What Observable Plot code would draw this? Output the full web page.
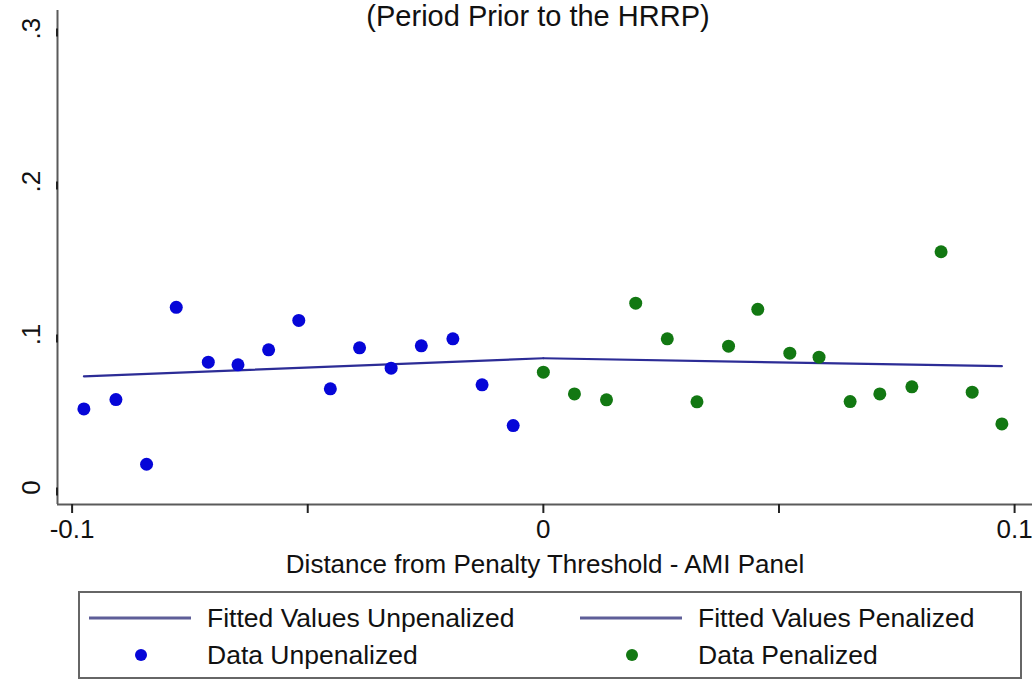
<!DOCTYPE html>
<html>
<head>
<meta charset="utf-8">
<script src="https://cdn.jsdelivr.net/npm/d3@7"></script>
<script src="https://cdn.jsdelivr.net/npm/@observablehq/plot@0.6"></script>
<style>
  body { margin: 0; background: #fff; }
  #wrap { position: relative; width: 1032px; height: 680px; overflow: hidden; font-family: "Liberation Sans", Arial, sans-serif; color: #111; }
  #title { position: absolute; left: 0; width: 1076px; top: 2px; text-align: center; font-size: 29px; line-height: 1; white-space: nowrap; }
  #chart { position: absolute; left: 0; top: 0; }
  #legend { position: absolute; left: 0; top: 0; pointer-events: none; }
</style>
</head>
<body>
<div id="wrap">
  <div id="chart"></div>
  <div id="title">(Period Prior to the HRRP)</div>
  <svg id="legend" width="1032" height="680"></svg>
</div>
<script>
// Binned readmission rates by distance from the penalty threshold (AMI panel)
const xUnpenalized = [-0.0975, -0.0907, -0.0842, -0.0779, -0.0711, -0.0648, -0.0583, -0.0519,
                      -0.0452, -0.0390, -0.0323, -0.0259, -0.0192, -0.0130, -0.0064];
const yUnpenalized = [0.0514, 0.0575, 0.0152, 0.1178, 0.0819, 0.0802, 0.0900, 0.1092,
                      0.0645, 0.0913, 0.0780, 0.0926, 0.0972, 0.0671, 0.0405];

const xPenalized = [0.0000, 0.0066, 0.0134, 0.0196, 0.0263, 0.0326, 0.0393, 0.0455,
                    0.0523, 0.0585, 0.0651, 0.0714, 0.0782, 0.0844, 0.0910, 0.0973];
const yPenalized = [0.0754, 0.0612, 0.0573, 0.1205, 0.0972, 0.0560, 0.0924, 0.1165,
                    0.0878, 0.0852, 0.0562, 0.0612, 0.0658, 0.1541, 0.0623, 0.0416];

// Linear fits on each side of the threshold (endpoints of the fitted segments)
const xFitUnpenalized = [-0.0975, 0.0];
const yFitUnpenalized = [0.0727, 0.0845];
const xFitPenalized = [0.0, 0.0973];
const yFitPenalized = [0.0845, 0.0793];

// Axis ticks and labels
const xTicks = [-0.1, -0.05, 0, 0.05, 0.1];
const xTickLabels = ["-0.1", "", "0", "", "0.1"];
const yTicks = [0, 0.1, 0.2, 0.3];
const yTickLabels = ["0", ".1", ".2", ".3"];
const xTitle = "Distance from Penalty Threshold - AMI Panel";

const xDomain = [-0.1031, 0.1038];
const yDomain = [-0.0111, 0.3118];

const colors = { fit: "#2c2c96", unpenalized: "#0606d8", penalized: "#127812", axis: "#5a5a5a" };

const legendItems = [
  { label: "Fitted Values Unpenalized", kind: "line", color: "#5e5e98" },
  { label: "Fitted Values Penalized", kind: "line", color: "#5e5e98" },
  { label: "Data Unpenalized", kind: "dot", color: colors.unpenalized },
  { label: "Data Penalized", kind: "dot", color: colors.penalized }
];

const zip = (xs, ys) => xs.map((x, i) => ({ x, y: ys[i] }));
const unpen = zip(xUnpenalized, yUnpenalized);
const pen = zip(xPenalized, yPenalized);
const fitUnpen = zip(xFitUnpenalized, yFitUnpenalized);
const fitPen = zip(xFitPenalized, yFitPenalized);

const font = "'Liberation Sans', Arial, sans-serif";

const chart = Plot.plot({
  width: 1032,
  height: 590,
  marginLeft: 57,
  marginRight: 0,
  marginTop: 10,
  marginBottom: 86,
  style: { fontFamily: font, fontSize: "26px", color: "#111", background: "transparent", overflow: "visible" },
  x: { domain: xDomain },
  y: { domain: yDomain },
  marks: [
    // Fitted lines
    Plot.line(fitUnpen, { x: "x", y: "y", stroke: colors.fit, strokeWidth: 2.2 }),
    Plot.line(fitPen, { x: "x", y: "y", stroke: colors.fit, strokeWidth: 2.2 }),
    // Binned data
    Plot.dot(unpen, { x: "x", y: "y", r: 6.5, fill: colors.unpenalized, stroke: "none" }),
    Plot.dot(pen, { x: "x", y: "y", r: 6.5, fill: colors.penalized, stroke: "none" }),
    // Axis lines along the left and bottom edges
    Plot.ruleX([xDomain[0]], { y1: yDomain[0], y2: yDomain[1], stroke: colors.axis, strokeWidth: 2 }),
    Plot.ruleY([yDomain[0]], { x1: xDomain[0], x2: xDomain[1], stroke: colors.axis, strokeWidth: 2 }),
    Plot.axisX(xTicks, {
      tickSize: 9, tickPadding: 6, strokeWidth: 2, stroke: "#222",
      tickFormat: d => xTickLabels[xTicks.indexOf(d)],
      fontSize: 26,
      label: xTitle, labelAnchor: "center", labelOffset: 68, labelArrow: "none"
    }),
    Plot.axisY(yTicks, {
      tickSize: 8, tickPadding: 18, strokeWidth: 2, stroke: "#222",
      tickFormat: d => yTickLabels[yTicks.indexOf(d)],
      rotate: -90, textAnchor: "middle",
      fontSize: 26,
      label: null
    })
  ]
});
document.getElementById("chart").appendChild(chart);

// Legend box below the plot
const legend = d3.select("#legend");
legend.append("rect")
  .attr("x", 79).attr("y", 592).attr("width", 942).attr("height", 86)
  .attr("fill", "none").attr("stroke", "#666").attr("stroke-width", 2);
const cols = [89, 580];
const rows = [618, 655];
legendItems.forEach((item, i) => {
  const cx = cols[i % 2], cy = rows[Math.floor(i / 2)];
  if (item.kind === "line") {
    legend.append("line").attr("x1", cx).attr("x2", cx + 102).attr("y1", cy).attr("y2", cy)
      .attr("stroke", item.color).attr("stroke-width", 3);
  } else {
    legend.append("circle").attr("cx", cx + 52).attr("cy", cy).attr("r", 6)
      .attr("fill", item.color);
  }
  legend.append("text").attr("x", cx + 118).attr("y", cy + 9)
    .attr("font-family", font).attr("font-size", 26.5).attr("fill", "#111")
    .text(item.label);
});
</script>
</body>
</html>
